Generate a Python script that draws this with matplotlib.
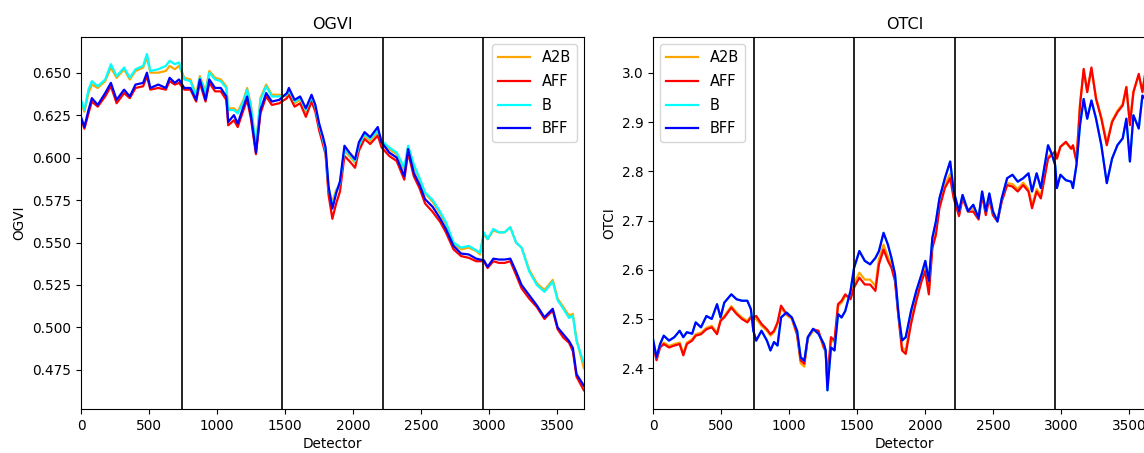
import matplotlib
matplotlib.use("Agg")
import matplotlib.pyplot as plt

plt.rcParams["font.family"] = "DejaVu Sans"
plt.rcParams["font.size"] = 9.8

# Camera boundaries along the detector axis
boundaries = [740, 1480, 2220, 2960]
series_names = ["A2B", "AFF", "B", "BFF"]
series_colors = ["orange", "red", "cyan", "blue"]

# ---------------- OGVI ----------------
ogvi_det = [0, 25, 55, 80, 123, 178, 220, 262, 317, 359, 401, 457, 485, 510, 568,
            624, 652, 690, 721, 760, 805, 847, 874, 916, 944, 986, 1028, 1069, 1083,
            1125, 1153, 1195, 1222, 1250, 1287, 1320, 1362, 1404, 1459, 1515, 1529,
            1571, 1612, 1654, 1696, 1724, 1752, 1779, 1799, 1821, 1849, 1877, 1905,
            1938, 1974, 2016, 2044, 2086, 2127, 2183, 2211, 2267, 2322, 2378, 2406,
            2448, 2490, 2531, 2587, 2643, 2684, 2740, 2796, 2852, 2907, 2935, 2963,
            2991, 3033, 3074, 3116, 3158, 3200, 3241, 3297, 3353, 3409, 3470, 3506,
            3548, 3590, 3618, 3645, 3699]

ogvi_bff = [0.624, 0.618, 0.628, 0.635, 0.631, 0.638, 0.644, 0.634, 0.640, 0.636,
            0.643, 0.644, 0.650, 0.641, 0.643, 0.641, 0.647, 0.644, 0.646, 0.641,
            0.641, 0.634, 0.646, 0.634, 0.646, 0.641, 0.641, 0.636, 0.621, 0.625,
            0.620, 0.630, 0.636, 0.625, 0.603, 0.628, 0.638, 0.633, 0.634, 0.638,
            0.641, 0.634, 0.636, 0.629, 0.637, 0.631, 0.620, 0.6125, 0.606, 0.583,
            0.570, 0.579, 0.586, 0.607, 0.603, 0.599, 0.609, 0.615, 0.612, 0.618,
            0.609, 0.603, 0.600, 0.589, 0.605, 0.591, 0.584, 0.5755, 0.571, 0.564,
            0.558, 0.548, 0.5435, 0.543, 0.5405, 0.540, 0.5396, 0.5357, 0.5405,
            0.540, 0.540, 0.5405, 0.533, 0.525, 0.519, 0.513, 0.506, 0.511, 0.500,
            0.496, 0.492, 0.488, 0.4725, 0.4657]

ogvi_aff = [0.623, 0.617, 0.626, 0.633, 0.630, 0.636, 0.642, 0.632, 0.638, 0.635,
            0.641, 0.642, 0.648, 0.640, 0.641, 0.640, 0.645, 0.643, 0.644, 0.640,
            0.640, 0.633, 0.644, 0.633, 0.644, 0.639, 0.639, 0.634, 0.619, 0.622,
            0.618, 0.628, 0.634, 0.623, 0.602, 0.626, 0.636, 0.631, 0.632, 0.635,
            0.637, 0.630, 0.632, 0.624, 0.633, 0.627, 0.616, 0.608, 0.602, 0.578,
            0.564, 0.573, 0.580, 0.601, 0.598, 0.594, 0.604, 0.611, 0.608, 0.613,
            0.606, 0.601, 0.598, 0.587, 0.603, 0.589, 0.582, 0.573, 0.568, 0.562,
            0.556, 0.546, 0.542, 0.541, 0.539, 0.539, 0.539, 0.535, 0.539, 0.538,
            0.538, 0.539, 0.531, 0.523, 0.517, 0.512, 0.505, 0.510, 0.499, 0.494,
            0.491, 0.486, 0.471, 0.463]

ogvi_b = [0.634, 0.628, 0.640, 0.645, 0.642, 0.646, 0.655, 0.648, 0.653, 0.647,
          0.652, 0.654, 0.661, 0.651, 0.652, 0.654, 0.657, 0.655, 0.656, 0.646,
          0.645, 0.636, 0.647, 0.638, 0.650, 0.646, 0.645, 0.641, 0.628, 0.628,
          0.626, 0.633, 0.640, 0.630, 0.606, 0.634, 0.642, 0.636, 0.636, 0.637,
          0.640, 0.633, 0.635, 0.628, 0.636, 0.630, 0.619, 0.611, 0.604, 0.582,
          0.572, 0.580, 0.585, 0.605, 0.602, 0.598, 0.607, 0.614, 0.611, 0.616,
          0.610, 0.606, 0.603, 0.594, 0.607, 0.596, 0.588, 0.5795, 0.575, 0.568,
          0.562, 0.550, 0.547, 0.548, 0.5454, 0.544, 0.556, 0.552, 0.558, 0.556,
          0.556, 0.559, 0.550, 0.547, 0.533, 0.525, 0.521, 0.527, 0.516, 0.511,
          0.5056, 0.507, 0.492, 0.479]

ogvi_a2b = [0.633, 0.627, 0.638, 0.643, 0.641, 0.645, 0.653, 0.647, 0.652, 0.646,
            0.651, 0.653, 0.659, 0.650, 0.650, 0.651, 0.654, 0.652, 0.654, 0.647,
            0.646, 0.637, 0.648, 0.639, 0.651, 0.647, 0.646, 0.642, 0.629, 0.629,
            0.627, 0.634, 0.641, 0.631, 0.606, 0.635, 0.643, 0.637, 0.637, 0.636,
            0.639, 0.632, 0.634, 0.627, 0.635, 0.629, 0.618, 0.610, 0.603, 0.581,
            0.574, 0.581, 0.584, 0.604, 0.601, 0.597, 0.606, 0.613, 0.610, 0.615,
            0.609, 0.605, 0.602, 0.593, 0.606, 0.595, 0.587, 0.579, 0.574, 0.567,
            0.561, 0.549, 0.546, 0.547, 0.545, 0.543, 0.555, 0.552, 0.557, 0.556,
            0.556, 0.559, 0.550, 0.547, 0.534, 0.526, 0.522, 0.528, 0.517, 0.512,
            0.507, 0.508, 0.493, 0.476]

# ---------------- OTCI ----------------
otci_det = [0, 26, 52, 79, 118, 157, 196, 223, 249, 288, 314, 353, 393, 432, 471,
            497, 524, 576, 615, 654, 694, 720, 738, 759, 798, 838, 864, 890, 916,
            942, 982, 1021, 1060, 1086, 1113, 1139, 1178, 1217, 1257, 1270, 1283,
            1309, 1335, 1361, 1387, 1414, 1453, 1479, 1518, 1558, 1597, 1636, 1662,
            1696, 1728, 1754, 1780, 1806, 1832, 1859, 1898, 1937, 1976, 2003, 2029,
            2055, 2081, 2107, 2147, 2186, 2212, 2251, 2277, 2317, 2356, 2395, 2421,
            2448, 2474, 2500, 2534, 2565, 2605, 2644, 2683, 2723, 2762, 2788, 2822,
            2853, 2906, 2932, 2958, 2971, 2997, 3037, 3076, 3089, 3115, 3141, 3168,
            3194, 3225, 3259, 3298, 3338, 3377, 3416, 3455, 3482, 3508, 3534, 3573,
            3600, 3640, 3670, 3699]

otci_bff = [2.459, 2.422, 2.449, 2.466, 2.456, 2.463, 2.476, 2.463, 2.473, 2.470,
            2.493, 2.483, 2.506, 2.500, 2.530, 2.503, 2.533, 2.550, 2.540, 2.537,
            2.537, 2.520, 2.476, 2.456, 2.476, 2.456, 2.436, 2.453, 2.446, 2.503,
            2.513, 2.503, 2.476, 2.422, 2.415, 2.463, 2.480, 2.470, 2.449, 2.436,
            2.355, 2.442, 2.436, 2.510, 2.503, 2.516, 2.557, 2.604, 2.638, 2.618,
            2.611, 2.624, 2.638, 2.675, 2.651, 2.624, 2.591, 2.510, 2.456, 2.463,
            2.516, 2.557, 2.591, 2.618, 2.577, 2.665, 2.698, 2.745, 2.786, 2.820,
            2.759, 2.719, 2.752, 2.719, 2.732, 2.705, 2.759, 2.719, 2.755, 2.719,
            2.698, 2.745, 2.786, 2.793, 2.779, 2.786, 2.796, 2.759, 2.796, 2.766,
            2.853, 2.836, 2.813, 2.766, 2.793, 2.782, 2.779, 2.766, 2.813, 2.894,
            2.947, 2.907, 2.944, 2.907, 2.853, 2.776, 2.826, 2.853, 2.867, 2.907,
            2.820, 2.914, 2.887, 2.954, 2.940, 2.930, 2.970]

otci_b = [2.459, 2.422, 2.449, 2.466, 2.456, 2.463, 2.476, 2.463, 2.473, 2.470,
          2.493, 2.483, 2.506, 2.500, 2.530, 2.503, 2.533, 2.550, 2.540, 2.537,
          2.537, 2.520, 2.476, 2.456, 2.476, 2.456, 2.436, 2.453, 2.446, 2.503,
          2.513, 2.503, 2.476, 2.422, 2.415, 2.463, 2.480, 2.470, 2.449, 2.436,
          2.355, 2.442, 2.436, 2.510, 2.503, 2.516, 2.557, 2.604, 2.638, 2.618,
          2.611, 2.624, 2.638, 2.675, 2.651, 2.624, 2.591, 2.510, 2.456, 2.463,
          2.516, 2.557, 2.591, 2.618, 2.577, 2.665, 2.698, 2.745, 2.786, 2.820,
          2.759, 2.719, 2.752, 2.719, 2.732, 2.705, 2.759, 2.719, 2.755, 2.719,
          2.698, 2.745, 2.786, 2.793, 2.779, 2.786, 2.796, 2.759, 2.796, 2.766,
          2.853, 2.836, 2.813, 2.766, 2.793, 2.782, 2.779, 2.766, 2.813, 2.894,
          2.947, 2.907, 2.944, 2.907, 2.853, 2.776, 2.826, 2.853, 2.867, 2.907,
          2.820, 2.914, 2.887, 2.954, 2.940, 2.930, 2.970]

otci_aff = [2.449, 2.416, 2.442, 2.449, 2.442, 2.446, 2.449, 2.426, 2.449, 2.456,
            2.466, 2.469, 2.479, 2.483, 2.469, 2.496, 2.503, 2.523, 2.510, 2.500,
            2.493, 2.503, 2.503, 2.506, 2.490, 2.479, 2.469, 2.476, 2.493, 2.527,
            2.510, 2.503, 2.469, 2.416, 2.409, 2.463, 2.479, 2.476, 2.442, 2.436,
            2.375, 2.463, 2.456, 2.530, 2.537, 2.550, 2.540, 2.564, 2.584, 2.570,
            2.570, 2.557, 2.611, 2.641, 2.618, 2.604, 2.577, 2.503, 2.436, 2.429,
            2.490, 2.537, 2.577, 2.597, 2.550, 2.644, 2.671, 2.725, 2.766, 2.786,
            2.745, 2.709, 2.745, 2.718, 2.718, 2.702, 2.752, 2.711, 2.745, 2.711,
            2.698, 2.738, 2.772, 2.769, 2.759, 2.772, 2.759, 2.725, 2.759, 2.745,
            2.826, 2.833, 2.840, 2.826, 2.850, 2.860, 2.846, 2.853, 2.820, 2.934,
            3.008, 2.961, 3.011, 2.947, 2.907, 2.853, 2.900, 2.920, 2.934, 2.971,
            2.894, 2.961, 2.998, 2.961, 3.035, 3.000, 3.050]

otci_a2b = [2.452, 2.419, 2.445, 2.452, 2.445, 2.449, 2.452, 2.429, 2.452, 2.459,
            2.469, 2.472, 2.482, 2.486, 2.472, 2.499, 2.506, 2.526, 2.513, 2.503,
            2.496, 2.506, 2.500, 2.500, 2.486, 2.476, 2.466, 2.473, 2.490, 2.523,
            2.508, 2.500, 2.466, 2.410, 2.403, 2.460, 2.476, 2.473, 2.440, 2.434,
            2.372, 2.458, 2.452, 2.526, 2.533, 2.546, 2.545, 2.572, 2.594, 2.580,
            2.580, 2.567, 2.622, 2.651, 2.626, 2.611, 2.583, 2.506, 2.442, 2.436,
            2.496, 2.543, 2.582, 2.602, 2.556, 2.650, 2.678, 2.732, 2.773, 2.795,
            2.750, 2.713, 2.749, 2.722, 2.723, 2.706, 2.756, 2.715, 2.749, 2.715,
            2.702, 2.742, 2.776, 2.774, 2.764, 2.777, 2.764, 2.730, 2.764, 2.750,
            2.830, 2.836, 2.840, 2.826, 2.850, 2.858, 2.846, 2.852, 2.822, 2.936,
            3.006, 2.962, 3.008, 2.950, 2.910, 2.858, 2.903, 2.923, 2.937, 2.972,
            2.898, 2.962, 2.995, 2.963, 3.030, 3.002, 3.045]

fig = plt.figure(figsize=(11.44, 4.53), dpi=100)
ax1 = fig.add_axes([81 / 1144, 44 / 453, 503 / 1144, 372 / 453])
ax2 = fig.add_axes([653 / 1144, 44 / 453, 503 / 1144, 372 / 453])

panels = [
    (ax1, "OGVI", ogvi_det, [ogvi_a2b, ogvi_aff, ogvi_b, ogvi_bff], (0.452, 0.671), "upper right"),
    (ax2, "OTCI", otci_det, [otci_a2b, otci_aff, otci_b, otci_bff], (2.317, 3.073), "upper left"),
]

for ax, name, det, values, ylim, loc in panels:
    for vals, lab, col in zip(values, series_names, series_colors):
        ax.plot(det, vals, color=col, lw=1.6, label=lab)
    for b in boundaries:
        ax.axvline(b, color="black", lw=1.2)
    ax.set_xlim(0, 3700)
    ax.set_ylim(*ylim)
    ax.set_title(name, fontsize=11.5)
    ax.set_xlabel("Detector", labelpad=3)
    ax.set_ylabel(name)
    ax.legend(loc=loc, fontsize=10.5, handlelength=2.2, labelspacing=0.6)

fig.savefig("out.png", dpi=100)
